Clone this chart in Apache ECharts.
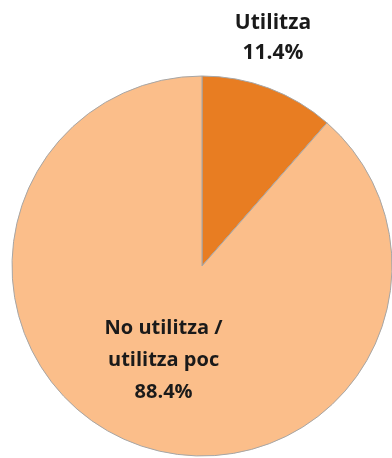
<!DOCTYPE html>
<html>
<head>
<meta charset="utf-8">
<script src="https://cdn.jsdelivr.net/npm/echarts@6/dist/echarts.min.js"></script>
<style>
  html, body { margin: 0; padding: 0; background: #fff; }
  #chart { width: 392px; height: 458px; }
</style>
</head>
<body>
<div id="chart"></div>
<script>
const categories = ['Utilitza', 'No utilitza /\nutilitza poc'];
const values = [11.4, 88.4];
const colors = ['#E87D22', '#FBBE8A'];

const chart = echarts.init(document.getElementById('chart'));

const option = {
  animation: false,
  series: [
    {
      type: 'pie',
      center: [202, 266],
      radius: 190,
      startAngle: 90,
      clockwise: true,
      itemStyle: {
        borderColor: '#a6a6a6',
        borderWidth: 1
      },
      label: {
        show: true,
        position: 'inside',
        formatter: function (p) {
          return p.name + '\n' + p.value.toFixed(1) + '%';
        },
        color: '#1a1a1a',
        fontFamily: 'Open Sans',
        fontWeight: 'bold',
        fontSize: 20,
        lineHeight: 32,
        offset: [-4, 3]
      },
      labelLine: { show: false },
      labelLayout: function (params) {
        if (params.dataIndex === 0) {
          return { x: 273, y: 38, align: 'center', verticalAlign: 'middle' };
        }
      },
      data: categories.map(function (c, i) {
        const item = { name: c, value: values[i], itemStyle: { color: colors[i] } };
        if (i === 0) {
          item.label = { fontSize: 21, lineHeight: 30 };
        }
        return item;
      })
    }
  ]
};

chart.setOption(option);
</script>
</body>
</html>
